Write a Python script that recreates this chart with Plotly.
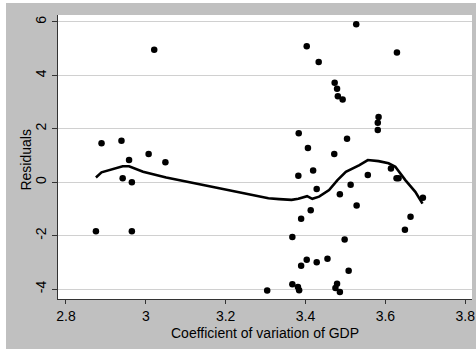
import plotly.graph_objects as go

# Scatter data: coefficient of variation of GDP vs residuals
cv_gdp = [3.021, 2.889, 2.939, 2.958, 3.007, 3.049, 2.942, 2.965, 2.875, 2.965,
          3.527, 3.403, 3.629, 3.433, 3.473, 3.479, 3.481, 3.493, 3.583, 3.581,
          3.581, 3.383, 3.504, 3.406, 3.472, 3.419, 3.382, 3.556, 3.614, 3.628,
          3.633, 3.428, 3.513, 3.486, 3.528, 3.413, 3.389, 3.694, 3.663, 3.649,
          3.367, 3.498, 3.455, 3.403, 3.428, 3.389, 3.508, 3.367, 3.381, 3.384,
          3.479, 3.475, 3.486, 3.304]
residuals = [4.96, 1.46, 1.55, 0.83, 1.06, 0.75, 0.15, 0.00, -1.83, -1.83,
             5.91, 5.09, 4.86, 4.50, 3.72, 3.50, 3.22, 3.10, 2.44, 2.23,
             1.96, 1.83, 1.63, 1.28, 1.06, 0.44, 0.24, 0.27, 0.51, 0.15,
             0.15, -0.25, -0.09, -0.45, -0.87, -1.05, -1.37, -0.58, -1.29, -1.78,
             -2.05, -2.14, -2.86, -2.90, -2.99, -3.13, -3.31, -3.82, -3.92, -4.04,
             -3.80, -3.96, -4.11, -4.05]

# Lowess smooth line
fit_x = [2.875, 2.889, 2.942, 2.958, 2.993, 3.051, 3.15, 3.234, 3.307, 3.334,
         3.365, 3.382, 3.404, 3.417, 3.434, 3.459, 3.480, 3.501, 3.535, 3.556,
         3.583, 3.608, 3.625, 3.650, 3.675, 3.693]
fit_y = [0.18, 0.37, 0.60, 0.60, 0.39, 0.18, -0.12, -0.39, -0.60, -0.63,
         -0.66, -0.62, -0.52, -0.62, -0.54, -0.29, 0.08, 0.39, 0.64, 0.83,
         0.79, 0.71, 0.58, 0.08, -0.36, -0.80]

x_ticks = [2.8, 3.0, 3.2, 3.4, 3.6, 3.8]
x_ticklabels = ["2.8", "3", "3.2", "3.4", "3.6", "3.8"]
y_ticks = [-4, -2, 0, 2, 4, 6]
y_ticklabels = ["-4", "-2", "0", "2", "4", "6"]
x_title = "Coefficient of variation of GDP"
y_title = "Residuals"

fig = go.Figure()
fig.add_trace(go.Scatter(x=cv_gdp, y=residuals, mode="markers",
                         marker=dict(color="black", size=6.5), showlegend=False,
                         hoverinfo="skip"))
fig.add_trace(go.Scatter(x=fit_x, y=fit_y, mode="lines",
                         line=dict(color="black", width=2.6), showlegend=False,
                         hoverinfo="skip"))

# figure is offset by 6px left / 3px top inside a white page
W, H = 470, 346
ml, mr, mt, mb = 52, 1, 12, 50

font = dict(family="Liberation Sans, Arial, sans-serif", size=14, color="black")
fig.update_layout(
    width=W, height=H,
    margin=dict(l=ml, r=mr, t=mt, b=mb, pad=0),
    paper_bgcolor="#c0c0c0",
    plot_bgcolor="white",
    font=font,
    xaxis=dict(range=[2.780, 3.817], tickmode="array", tickvals=x_ticks,
               ticktext=x_ticklabels, ticks="outside", ticklen=4, tickcolor="#333",
               showline=True, linecolor="#333", linewidth=1, showgrid=False,
               zeroline=False, ticklabeloverflow="allow"),
    yaxis=dict(range=[-4.37, 6.26], tickmode="array", tickvals=y_ticks,
               ticktext=y_ticklabels, tickangle=-90, ticks="outside", ticklen=5,
               tickcolor="#333", showline=True, linecolor="#333", linewidth=1,
               showgrid=True, gridcolor="#d0d0d0", gridwidth=1, zeroline=False),
    annotations=[
        dict(text=x_title, xref="paper", yref="paper", x=0.5, y=-0.118,
             xanchor="center", yanchor="middle", showarrow=False, font=font),
        dict(text=y_title, xref="paper", yref="paper", x=-0.078, y=0.49,
             xanchor="center", yanchor="middle", textangle=-90, showarrow=False,
             font=font),
    ],
)

fig.write_html("out.html", config={"displayModeBar": False},
               post_script="document.body.style.margin='0';"
                           "document.body.style.padding='3px 0 0 6px';"
                           "document.body.style.background='white';"
                           "document.body.style.overflow='hidden';")
